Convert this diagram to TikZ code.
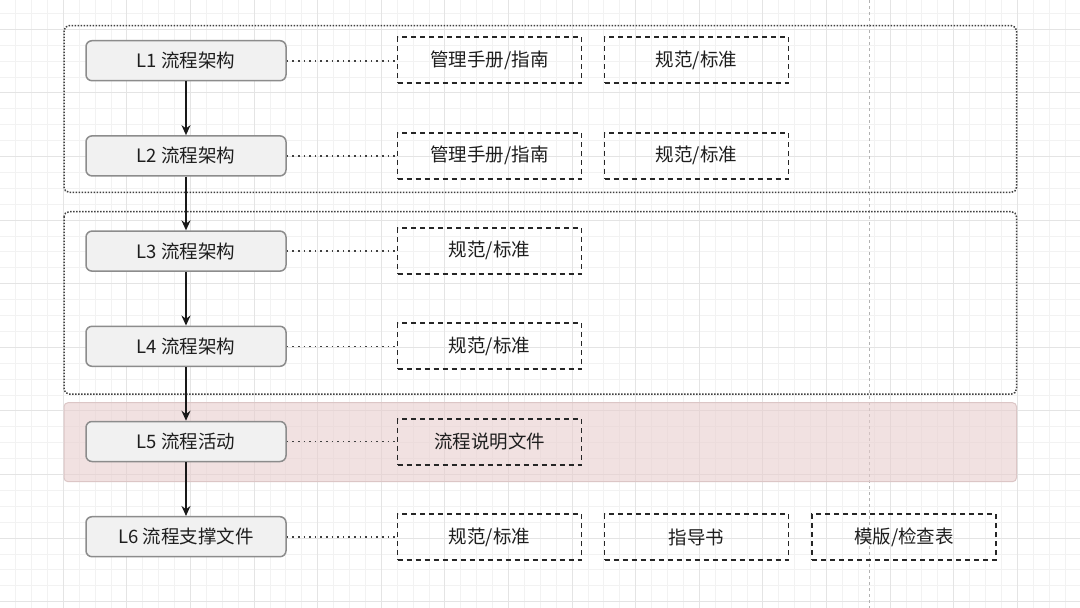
\documentclass[tikz,border=0pt]{standalone}
\usepackage{fontspec}
\newfontfamily\cjk{Noto Sans CJK SC}
\usetikzlibrary{arrows.meta}
\definecolor{gridminor}{RGB}{242,242,242}
\definecolor{gridmajor}{RGB}{228,228,228}
\definecolor{boxfill}{RGB}{241,241,241}
\definecolor{boxline}{RGB}{140,140,140}
\definecolor{txt}{RGB}{30,30,30}
\definecolor{pinkfill}{RGB}{232,206,206}
\definecolor{pinkline}{RGB}{220,198,198}
\tikzset{
  lvl/.style={draw=boxline, fill=boxfill, line width=1.5pt, rounded corners=6pt,
    minimum width=200pt, minimum height=40pt, inner sep=0pt,
    font=\cjk\fontsize{18.5}{22}\selectfont, text=txt},
  doc/.style={draw=black!85, line width=1.8pt, dash pattern=on 5pt off 4pt,
    minimum width=184pt, minimum height=46pt, inner sep=0pt,
    font=\cjk\fontsize{18.5}{22}\selectfont, text=txt},
  link/.style={draw=black!75, line width=1.6pt, dash pattern=on 1.6pt off 4pt},
  flow/.style={draw=black!90, line width=1.5pt, -{Stealth[length=10pt,width=9pt]}},
  group/.style={draw=black!75, line width=1.5pt, dash pattern=on 1.5pt off 1.5pt, rounded corners=5pt},
}
\begin{document}
\begin{tikzpicture}[x=1pt,y=-1pt]
\useasboundingbox (0,0) rectangle (1080,608);
\begin{scope}
\clip (0,0) rectangle (1080,608);
\fill[white] (0,0) rectangle (1080,608);
\foreach \i in {-4,...,68} {
  \draw[gridminor, line width=1pt] ({63.3+\i*15.9},0) -- ++(0,608);
}
\foreach \i in {-2,...,38} {
  \draw[gridminor, line width=1pt] (0,{29.3+\i*15.9}) -- ++(1080,0);
}
\foreach \i in {-1,...,17} {
  \draw[gridmajor, line width=1pt] ({63.3+\i*63.6},0) -- ++(0,608);
}
\foreach \i in {-1,...,9} {
  \draw[gridmajor, line width=1pt] (0,{29.3+\i*63.6}) -- ++(1080,0);
}
\draw[black!30, line width=1pt, dash pattern=on 3pt off 3pt] (869,0) -- (869,608);
\end{scope}

% groups
\draw[group] (64,25.7) rectangle (1016.5,192.3);
\draw[group] (64,211.7) rectangle (1016.5,394);
\draw[draw=pinkline, line width=1pt, fill=pinkfill, fill opacity=0.6, rounded corners=4pt] (64,402.7) rectangle (1016.5,481.7);

% level nodes
\node[lvl] (L1) at (186,60.7) {L1 流程架构};
\node[lvl] (L2) at (186,155.9) {L2 流程架构};
\node[lvl] (L3) at (186,251.1) {L3 流程架构};
\node[lvl] (L4) at (186,346.3) {L4 流程架构};
\node[lvl] (L5) at (186,441.5) {L5 流程活动};
\node[lvl] (L6) at (186,536.7) {L6 流程支撑文件};

% document nodes
\node[doc] (d1a) at (489.5,60.2) {管理手册/指南};
\node[doc] (d1b) at (696.5,60.2) {规范/标准};
\node[doc] (d2a) at (489.5,155.6) {管理手册/指南};
\node[doc] (d2b) at (696.5,155.6) {规范/标准};
\node[doc] (d3a) at (489.5,250.8) {规范/标准};
\node[doc] (d4a) at (489.5,346.2) {规范/标准};
\node[doc] (d5a) at (489.5,441.6) {流程说明文件};
\node[doc] (d6a) at (489.5,537.3) {规范/标准};
\node[doc] (d6b) at (696.5,537.3) {指导书};
\node[doc] (d6c) at (904,537.3) {模版/检查表};

% dotted links
\draw[link] (L1.east) -- (L1.east -| d1a.west);
\draw[link] (L2.east) -- (L2.east -| d2a.west);
\draw[link] (L3.east) -- (L3.east -| d3a.west);
\draw[link] (L4.east) -- (L4.east -| d4a.west);
\draw[link] (L5.east) -- (L5.east -| d5a.west);
\draw[link] (L6.east) -- (L6.east -| d6a.west);

% flow arrows
\draw[flow] (L1) -- (L2);
\draw[flow] (L2) -- (L3);
\draw[flow] (L3) -- (L4);
\draw[flow] (L4) -- (L5);
\draw[flow] (L5) -- (L6);
\end{tikzpicture}
\end{document}
